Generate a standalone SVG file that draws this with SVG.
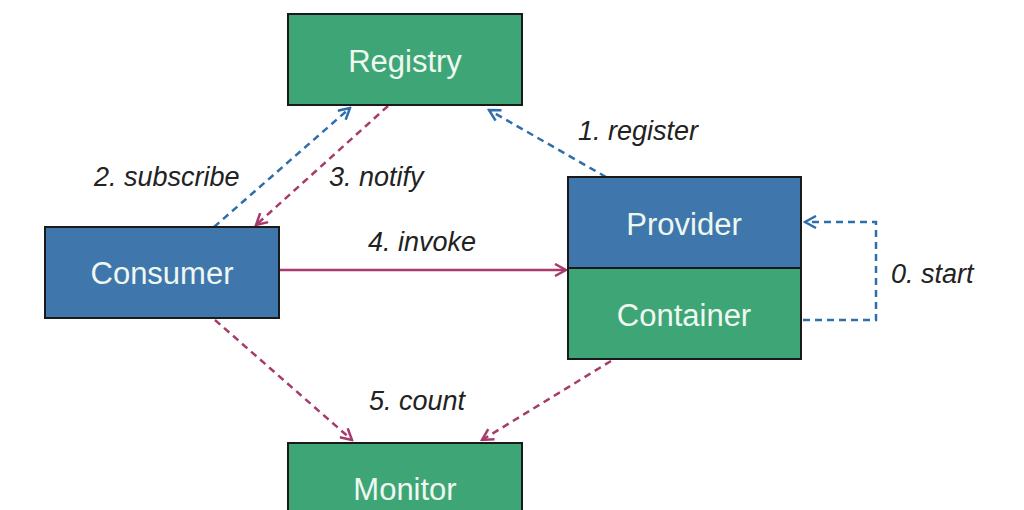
<svg xmlns="http://www.w3.org/2000/svg" width="1024" height="510" viewBox="0 0 1024 510">
<style>
.green{fill:#3ea676;stroke:#1a1a1a;stroke-width:2}
.blue{fill:#3f77ad;stroke:#1a1a1a;stroke-width:2}
.nt{font-family:"Liberation Sans",Arial,sans-serif;font-size:31px;fill:#eef8f1;text-anchor:middle}
.lb{font-family:"Liberation Sans",Arial,sans-serif;font-size:27px;font-style:italic;fill:#222}
.cb{stroke:#2e6fab;stroke-width:2.5;fill:none;stroke-dasharray:7,5}
.cp{stroke:#a83a6d;stroke-width:2.5;fill:none;stroke-dasharray:7,5}
.cps{stroke:#a83a6d;stroke-width:2.5;fill:none}
</style>
<defs>
<marker id="ab" markerWidth="14" markerHeight="14" refX="12" refY="7" orient="auto" markerUnits="userSpaceOnUse"><path d="M1,1 L12,7 L1,13" fill="none" stroke="#2e6fab" stroke-width="2.5"/></marker>
<marker id="ap" markerWidth="14" markerHeight="14" refX="12" refY="7" orient="auto" markerUnits="userSpaceOnUse"><path d="M1,1 L12,7 L1,13" fill="none" stroke="#a83a6d" stroke-width="2.5"/></marker>
</defs>
<rect width="1024" height="510" fill="#fff"/>
<g id="connectors">
<path class="cb" d="M214,227 L350,108" marker-end="url(#ab)"/>
<path class="cp" d="M388,106 L256,225" marker-end="url(#ap)"/>
<path class="cb" d="M606,177 L489,110" marker-end="url(#ab)"/>
<path class="cps" d="M280,270 L566,270" marker-end="url(#ap)"/>
<path class="cb" d="M803,320 L876,320 L876,222 L805,222" marker-end="url(#ab)"/>
<path class="cp" d="M215,320 L352,440" marker-end="url(#ap)"/>
<path class="cp" d="M611,361 L482,440" marker-end="url(#ap)"/>
<text class="lb" x="578" y="140">1. register</text>
<text class="lb" x="94" y="186">2. subscribe</text>
<text class="lb" x="329" y="186">3. notify</text>
<text class="lb" x="368" y="251">4. invoke</text>
<text class="lb" x="891" y="283">0. start</text>
<text class="lb" x="369" y="410">5. count</text>
</g>
<g id="registry"><rect class="green" x="288" y="14" width="234" height="91"/><text class="nt" x="405" y="72">Registry</text></g>
<g id="consumer"><rect class="blue" x="45" y="227" width="234" height="91"/><text class="nt" x="162" y="284">Consumer</text></g>
<g id="provider"><rect class="blue" x="568" y="177" width="233" height="91"/><text class="nt" x="684" y="235">Provider</text></g>
<g id="container"><rect class="green" x="568" y="268" width="233" height="91"/><text class="nt" x="684" y="326">Container</text></g>
<g id="monitor"><rect class="green" x="288" y="443" width="234" height="91"/><text class="nt" x="405" y="500">Monitor</text></g>
</svg>
